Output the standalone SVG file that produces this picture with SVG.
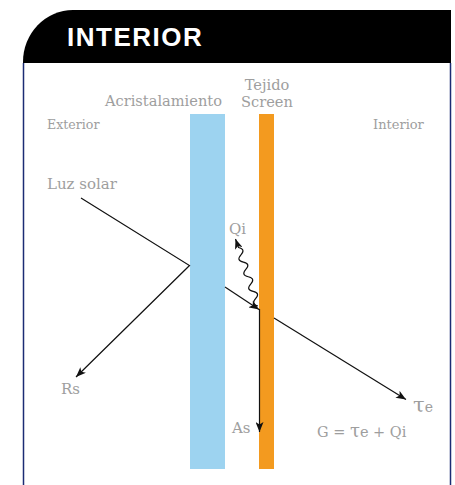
<svg xmlns="http://www.w3.org/2000/svg" width="455" height="485" viewBox="0 0 455 485">
<style>
.lbl{font-family:"DejaVu Serif","Liberation Serif",serif;fill:#9e9e9e}
.ray{stroke:#111;stroke-width:1.2;fill:none}
</style>
<defs>
<marker id="ah" markerUnits="userSpaceOnUse" markerWidth="10" markerHeight="8" viewBox="0 0 10 8" refX="10" refY="4" orient="auto">
<path d="M0,0 L10,4 L0,8 L2.5,4 z" fill="#111"/>
</marker>
</defs>
<g id="frame">
<path d="M23,63 L23,62 A50,52 0 0 1 73,10 L451,10 L451,63 Z" fill="#000"/>
<line x1="23.5" y1="63" x2="23.5" y2="485" stroke="#1c2c74" stroke-width="1.5"/>
<line x1="450.5" y1="63" x2="450.5" y2="485" stroke="#1c2c74" stroke-width="1.5"/>
<text x="67" y="46" font-family="'Liberation Sans',Arial,sans-serif" font-weight="bold" font-size="26" letter-spacing="1.5" fill="#fff">INTERIOR</text>
</g>
<g id="glass">
<rect x="190" y="114" width="35" height="355" fill="#9dd3f0"/>
<text class="lbl" x="105" y="106" font-size="14.6">Acristalamiento</text>
</g>
<g id="screen">
<rect x="259" y="114" width="15" height="355" fill="#f39a1f"/>
<text class="lbl" x="267" y="89.5" font-size="14.6" text-anchor="middle">Tejido</text>
<text class="lbl" x="267" y="106.5" font-size="14.6" text-anchor="middle">Screen</text>
</g>
<g id="labels">
<text class="lbl" x="47" y="129" font-size="12.6">Exterior</text>
<text class="lbl" x="373" y="129" font-size="13">Interior</text>
<text class="lbl" x="47" y="189" font-size="15">Luz solar</text>
<text class="lbl" x="229" y="234" font-size="15">Qi</text>
<text class="lbl" x="61" y="394" font-size="15">Rs</text>
<text class="lbl" x="232" y="433" font-size="15">As</text>
<text class="lbl" x="413" y="412"><tspan font-size="21">τ</tspan><tspan font-size="14">e</tspan></text>
<text class="lbl" x="317" y="437" font-size="14.5">G = <tspan font-size="18">τ</tspan>e + Qi</text>
</g>
<g id="connectors">
<polyline class="ray" points="81,198 189.5,265.5 76,377" marker-end="url(#ah)"/>
<line class="ray" x1="225" y1="287" x2="259" y2="309.5" marker-end="url(#ah)"/>
<line class="ray" x1="274" y1="318" x2="406" y2="399.5" marker-end="url(#ah)"/>
<line class="ray" x1="259.5" y1="309" x2="259.5" y2="432" stroke-width="1.5" marker-end="url(#ah)"/>
<path class="ray" d="M258,306 Q250.5,304.4 255.56,298.69 T253.13,291.38 T250.69,284.06 T248.25,276.75 T245.81,269.44 T243.38,262.13 T240.94,254.81 T238.5,247.5 L235.5,239" marker-end="url(#ah)"/>
</g>
</svg>
